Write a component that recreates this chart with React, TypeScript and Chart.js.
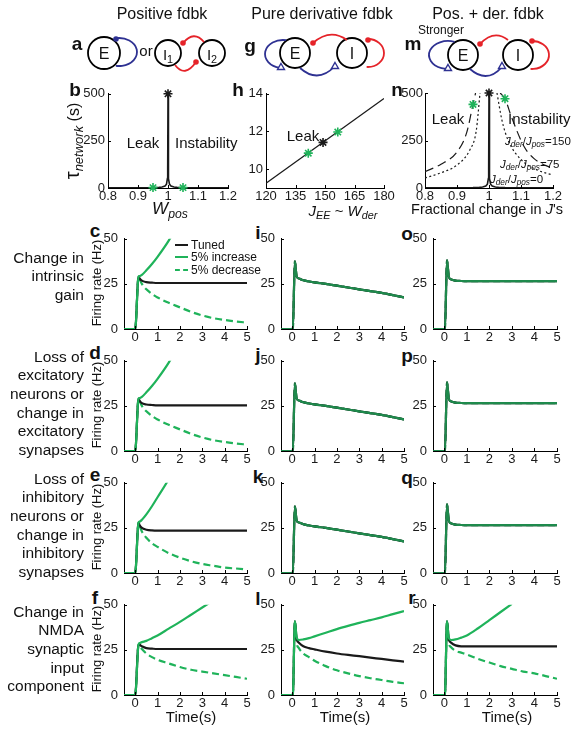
import React, { useEffect, useRef } from 'react';
import { Chart, registerables } from 'chart.js';
Chart.register(...registerables);

const FONT = "'Liberation Sans', Arial, Helvetica, sans-serif";
const BLACK = '#1a1a1a';
const GREEN = '#1fb35a';
const GREEN_MIX = '#1e8a4c';
const BLUE = '#2e3192';
const RED = '#e52329';

// ---------- Row b / h / n data ----------
const B_X_TICKS = [0.8, 0.9, 1, 1.1, 1.2];
const B_Y_TICKS = [0, 250, 500];
const W_POS = [0.8, 0.9, 0.95, 0.97, 0.98, 0.99, 0.995, 0.998, 0.999, 1, 1.001, 1.002, 1.005, 1.01, 1.02, 1.03, 1.05, 1.1, 1.2];
const TAU_POS = [0.5, 1, 2, 3.3, 5, 10, 20, 50, 100, 500, 100, 50, 20, 10, 5, 3.3, 2, 1, 0.5];
const B_STAR_BLACK_X = [1];
const B_STAR_BLACK_Y = [500];
const B_STAR_GREEN_X = [0.95, 1.05];
const B_STAR_GREEN_Y = [2, 2];

const H_X_TICKS = [120, 135, 150, 165, 180];
const H_Y_TICKS = [10, 12, 14];
const H_LINE_X = [120, 180];
const H_LINE_Y = [9.25, 13.75];
const H_STAR_BLACK_X = [149];
const H_STAR_BLACK_Y = [11.42];
const H_STAR_GREEN_X = [141.5, 156.5];
const H_STAR_GREEN_Y = [10.85, 11.97];

const N_DASH_L_X = [0.8, 0.85, 0.9, 0.93, 0.95, 0.958];
const N_DASH_L_Y = [86, 125, 190, 290, 440, 500];
const N_DASH_R_X = [1.035, 1.05, 1.07, 1.11, 1.14, 1.2];
const N_DASH_R_Y = [500, 470, 375, 217, 156, 100];
const N_DOT_L_X = [0.8, 0.85, 0.9, 0.94, 0.96, 0.972];
const N_DOT_L_Y = [53, 80, 121, 200, 300, 500];
const N_DOT_R_X = [1.025, 1.04, 1.06, 1.1, 1.15, 1.2];
const N_DOT_R_Y = [500, 360, 250, 150, 95, 68];
const N_STAR_BLACK_X = [1];
const N_STAR_BLACK_Y = [500];
const N_STAR_GREEN_X = [0.95, 1.05];
const N_STAR_GREEN_Y = [440, 470];

// ---------- time courses ----------
const TIME_TICKS = [0, 1, 2, 3, 4, 5];
const RATE_TICKS = [0, 25, 50];
const T_C = [-0.5, 0, 0.15, 0.2, 0.3, 0.5, 0.75, 1, 1.5, 2, 2.5, 3, 3.5, 4, 4.5, 5];
const T_S = [-0.5, 0.03, 0.12, 0.2, 0.3, 0.5, 0.75, 1, 1.5, 2, 2.5, 3, 3.5, 4, 4.5, 5];

const C_TUNED = [0, 0, 29, 28, 26.8, 26, 25.7, 25.5, 25.5, 25.5, 25.5, 25.5, 25.5, 25.5, 25.5, 25.5];
const C_INC = [0, 0, 29, 29.3, 30, 32.5, 36, 40, 49, 60, null, null, null, null, null, null];
const C_DEC = [0, 0, 29, 27.5, 25, 22, 19.5, 17.5, 14.5, 12, 9.5, 7.5, 6, 5, 4.2, 3.5];

const D_TUNED = [0, 0, 29, 27.8, 26.5, 25.8, 25.5, 25.3, 25.3, 25.3, 25.3, 25.3, 25.3, 25.3, 25.3, 25.3];
const D_INC = [0, 0, 29, 29.3, 30, 32.5, 36, 40, 49, 60, null, null, null, null, null, null];
const D_DEC = [0, 0, 29, 27.5, 25, 22, 19.5, 17.5, 14.5, 12, 9.5, 7.5, 6, 5, 4.2, 3.5];

const E_TUNED = [0, 0, 28, 26.5, 25, 24, 23.6, 23.5, 23.5, 23.5, 23.5, 23.5, 23.5, 23.5, 23.5, 23.5];
const E_INC = [0, 0, 28, 28.5, 29.5, 32.5, 37, 42, 52, 64, null, null, null, null, null, null];
const E_DEC = [0, 0, 28, 26, 23, 19.5, 16.5, 14.5, 11, 8.5, 6.5, 5, 4, 3, 2.5, 2];

const F_TUNED = [0, 0, 28, 27.8, 27, 26, 25.7, 25.5, 25.5, 25.5, 25.5, 25.5, 25.5, 25.5, 25.5, 25.5];
const F_INC = [0, 0, 28, 28.8, 29.3, 30, 31.5, 33, 36.8, 40.5, 44.5, 48.5, 52.5, null, null, null];
const F_DEC = [0, 0, 28, 27, 25.5, 23, 21, 19.5, 17.5, 15.5, 14, 13, 12, 11, 10, 9];

const I_ALL = [0, 0, 37.5, 29, 28, 27, 26.4, 25.8, 25, 24, 23, 22, 21, 20, 18.8, 17.5];
const J_ALL = [0, 0, 37.5, 29, 28, 27, 26.4, 25.8, 25, 24, 23, 22, 21, 20, 18.8, 17.5];
const K_ALL = [0, 0, 37, 29, 28, 27, 26.4, 25.8, 25, 24, 23, 22, 21, 20, 18.8, 17.5];

const L_TUNED = [0, 0, 41, 31, 29, 27, 26, 25.3, 24, 23, 22.2, 21.5, 20.7, 20, 19.2, 18.5];
const L_INC = [0, 0, 41, 32, 30.5, 30.8, 31.5, 32.5, 34.5, 36.5, 38.3, 40, 41.5, 43, 44.8, 46.5];
const L_DEC = [0, 0, 41, 29, 26, 23, 21, 19, 16, 13.7, 12, 10.5, 9.3, 8.3, 7.3, 6.5];

const O_ALL = [0, 0, 38, 29, 27.5, 26.8, 26.6, 26.5, 26.5, 26.5, 26.5, 26.5, 26.5, 26.5, 26.5, 26.5];
const P_ALL = [0, 0, 38, 29, 27.5, 26.8, 26.6, 26.5, 26.5, 26.5, 26.5, 26.5, 26.5, 26.5, 26.5, 26.5];
const Q_ALL = [0, 0, 38, 29, 27.5, 26.8, 26.6, 26.5, 26.5, 26.5, 26.5, 26.5, 26.5, 26.5, 26.5, 26.5];

const R_TUNED = [0, 0, 41, 31, 29, 27.5, 27, 27, 27, 27, 27, 27, 27, 27, 27, 27];
const R_INC = [0, 0, 41, 31.5, 30.5, 30.8, 31.8, 33, 37, 41.5, 46, 50.5, null, null, null, null];
const R_DEC = [0, 0, 41, 29, 26.5, 24.5, 23.5, 22.5, 20, 18, 16, 14.5, 13, 12, 10.5, 9];

// ---------- diagram geometry (page pixels) ----------
const CIRCLES_X = [104, 168, 212, 295, 352, 463, 518];
const CIRCLES_Y = [53, 53, 53, 53, 53, 55, 55];
const CIRCLES_R = [16, 13, 13, 15, 15, 15, 15];

type Rect = { x0: number; x1: number; y0: number; y1: number };
const PAD = { l: 40, r: 16, t: 10, b: 24 };

const zip = (xs: number[], ys: (number | null)[]) =>
  xs.map((x, i) => ({ x, y: ys[i] })).filter((p) => p.y !== null && p.y !== undefined) as { x: number; y: number }[];

const inwardTicks = {
  id: 'inwardTicks',
  afterDraw(chart: any) {
    const { ctx, chartArea: a } = chart;
    const xs = chart.scales.x;
    const ys = chart.scales.y;
    if (!xs || !ys || !xs.options.display) return;
    ctx.save();
    ctx.strokeStyle = '#000';
    ctx.lineWidth = 1;
    xs.ticks.forEach((t: any) => {
      const p = Math.round(xs.getPixelForValue(t.value)) + 0.5;
      ctx.beginPath();
      ctx.moveTo(p, a.bottom);
      ctx.lineTo(p, a.bottom - 3);
      ctx.stroke();
    });
    ys.ticks.forEach((t: any) => {
      const p = Math.round(ys.getPixelForValue(t.value)) + 0.5;
      ctx.beginPath();
      ctx.moveTo(a.left, p);
      ctx.lineTo(a.left + 3, p);
      ctx.stroke();
    });
    ctx.restore();
  },
};

function axis(ax: 'x' | 'y', min: number, max: number, ticks: number[], size: number, pad = 6) {
  return {
    type: 'linear',
    min,
    max,
    afterBuildTicks: (s: any) => {
      s.ticks = ticks.map((v) => ({ value: v }));
    },
    afterFit: (s: any) => {
      if (ax === 'x') s.height = size;
      else s.width = size;
    },
    grid: { display: false, drawTicks: false },
    border: { display: true, color: '#000', width: 1 },
    ticks: {
      color: BLACK,
      font: { family: FONT, size: 13 },
      padding: ax === 'x' ? 1 : pad,
      maxRotation: 0,
      autoSkip: false,
      callback: (v: any) => String(v),
    },
  };
}

function baseOptions(xs: any, ys: any) {
  return {
    responsive: false,
    animation: false,
    events: [],
    layout: { autoPadding: false, padding: { left: 0, top: PAD.t, right: PAD.r, bottom: 0 } },
    plugins: { legend: { display: false }, tooltip: { enabled: false } },
    scales: { x: xs, y: ys },
  };
}

const line = (data: any[], color: string, width: number, dash: number[] = [], smooth = true) => ({
  data,
  showLine: true,
  borderColor: color,
  backgroundColor: color,
  borderWidth: width,
  borderDash: dash,
  pointRadius: 0,
  fill: false,
  cubicInterpolationMode: smooth ? 'monotone' : 'default',
  tension: 0,
});

const stars = (xs: number[], ys: number[], color: string) => ({
  data: zip(xs, ys),
  showLine: false,
  pointStyle: 'star',
  pointRadius: 4.5,
  borderColor: color,
  backgroundColor: color,
  borderWidth: 1.6,
  clip: false,
});

// Note: Chart.js paints dataset 0 on top.
function timeConfig(t: number[], tuned: (number | null)[], inc: (number | null)[], dec: (number | null)[], overlap: boolean) {
  const g = overlap ? GREEN_MIX : GREEN;
  return {
    type: 'scatter',
    data: {
      datasets: [
        line(zip(t, inc), g, 2.2),
        line(zip(t, tuned), BLACK, 2.2),
        line(zip(t, dec), g, 2.2, [7, 4]),
      ],
    },
    options: baseOptions(axis('x', -0.5, 5, TIME_TICKS, PAD.b), axis('y', 0, 50, RATE_TICKS, PAD.l, 6)),
    plugins: [inwardTicks],
  };
}

function bConfig() {
  return {
    type: 'scatter',
    data: {
      datasets: [
        stars(B_STAR_BLACK_X, B_STAR_BLACK_Y, BLACK),
        stars(B_STAR_GREEN_X, B_STAR_GREEN_Y, GREEN),
        line(zip(W_POS, TAU_POS), BLACK, 1.6, [], false),
      ],
    },
    options: baseOptions(axis('x', 0.8, 1.2, B_X_TICKS, PAD.b), axis('y', 0, 500, B_Y_TICKS, PAD.l, 3)),
    plugins: [inwardTicks],
  };
}

function hConfig() {
  return {
    type: 'scatter',
    data: {
      datasets: [
        stars(H_STAR_BLACK_X, H_STAR_BLACK_Y, BLACK),
        stars(H_STAR_GREEN_X, H_STAR_GREEN_Y, GREEN),
        line(zip(H_LINE_X, H_LINE_Y), BLACK, 1.3, [], false),
      ],
    },
    options: baseOptions(axis('x', 120, 180, H_X_TICKS, PAD.b), axis('y', 9, 14, H_Y_TICKS, PAD.l, 3)),
    plugins: [inwardTicks],
  };
}

function nConfig() {
  return {
    type: 'scatter',
    data: {
      datasets: [
        stars(N_STAR_BLACK_X, N_STAR_BLACK_Y, BLACK),
        stars(N_STAR_GREEN_X, N_STAR_GREEN_Y, GREEN),
        line(zip(W_POS, TAU_POS), BLACK, 1.6, [], false),
        line(zip(N_DASH_L_X, N_DASH_L_Y), BLACK, 1.2, [9, 5]),
        line(zip(N_DASH_R_X, N_DASH_R_Y), BLACK, 1.2, [9, 5]),
        line(zip(N_DOT_L_X, N_DOT_L_Y), BLACK, 1.2, [2, 2.5]),
        line(zip(N_DOT_R_X, N_DOT_R_Y), BLACK, 1.2, [2, 2.5]),
      ],
    },
    options: baseOptions(axis('x', 0.8, 1.2, B_X_TICKS, PAD.b), axis('y', 0, 500, B_Y_TICKS, PAD.l, 2)),
    plugins: [inwardTicks],
  };
}

// diagram arcs
const ELLIPSES = [
  { cx: 119, cy: 52, rx: 18, ry: 14, a0: -100, a1: 100, ccw: false, color: BLUE },
  { cx: 283, cy: 54, rx: 18, ry: 14, a0: -80, a1: 100, ccw: true, color: BLUE },
  { cx: 368, cy: 53, rx: 16, ry: 14, a0: -90, a1: 95, ccw: false, color: RED },
  { cx: 448, cy: 55, rx: 19, ry: 14, a0: -70, a1: 92, ccw: true, color: BLUE },
  { cx: 532, cy: 55, rx: 17, ry: 14, a0: -95, a1: 95, ccw: false, color: RED },
];
const CURVES = [
  { p: [183, 43], c: [194, 30], q: [204, 42], color: RED },
  { p: [175, 65], c: [185, 78], q: [196, 62], color: RED },
  { p: [300, 68], c: [318, 84], q: [335, 66], color: BLUE },
  { p: [313, 43], c: [330, 28], q: [347, 40], color: RED },
  { p: [470, 69], c: [487, 84], q: [502, 67], color: BLUE },
  { p: [480, 44], c: [494, 29], q: [508, 40], color: RED },
];
const DOTS = [
  { x: 116, y: 39, color: BLUE },
  { x: 183, y: 43, color: RED },
  { x: 196, y: 62, color: RED },
  { x: 313, y: 43, color: RED },
  { x: 368, y: 40, color: RED },
  { x: 480, y: 44, color: RED },
  { x: 532, y: 41, color: RED },
];
const TRIS = [
  { x: 281, y: 67 },
  { x: 335, y: 66 },
  { x: 448, y: 68 },
  { x: 502, y: 66 },
];

const diagramPlugin = {
  id: 'diagram',
  afterDatasetsDraw(chart: any) {
    const ctx = chart.ctx;
    const sx = chart.scales.x;
    const sy = chart.scales.y;
    const X = (v: number) => sx.getPixelForValue(v);
    const Y = (v: number) => sy.getPixelForValue(v);
    ctx.save();
    ctx.lineWidth = 1.8;
    for (const e of ELLIPSES) {
      ctx.strokeStyle = e.color;
      ctx.beginPath();
      ctx.ellipse(X(e.cx), Y(e.cy), e.rx, e.ry, 0, (e.a0 * Math.PI) / 180, (e.a1 * Math.PI) / 180, e.ccw);
      ctx.stroke();
    }
    for (const c of CURVES) {
      ctx.strokeStyle = c.color;
      ctx.beginPath();
      ctx.moveTo(X(c.p[0]), Y(c.p[1]));
      ctx.quadraticCurveTo(X(c.c[0]), Y(c.c[1]), X(c.q[0]), Y(c.q[1]));
      ctx.stroke();
    }
    for (const d of DOTS) {
      ctx.fillStyle = d.color;
      ctx.beginPath();
      ctx.arc(X(d.x), Y(d.y), 2.8, 0, Math.PI * 2);
      ctx.fill();
    }
    ctx.strokeStyle = BLUE;
    ctx.fillStyle = '#fff';
    ctx.lineWidth = 1.4;
    for (const t of TRIS) {
      const x = X(t.x);
      const y = Y(t.y);
      ctx.beginPath();
      ctx.moveTo(x, y - 3.5);
      ctx.lineTo(x + 3.5, y + 2.5);
      ctx.lineTo(x - 3.5, y + 2.5);
      ctx.closePath();
      ctx.fill();
      ctx.stroke();
    }
    ctx.restore();
  },
};

function diagramConfig() {
  return {
    type: 'scatter',
    data: {
      datasets: [
        {
          data: zip(CIRCLES_X, CIRCLES_Y),
          pointRadius: CIRCLES_R,
          pointStyle: 'circle',
          borderColor: '#000',
          backgroundColor: 'rgba(0,0,0,0)',
          borderWidth: 1.8,
          clip: false,
        },
      ],
    },
    options: {
      responsive: false,
      animation: false,
      events: [],
      layout: { autoPadding: false, padding: 0 },
      plugins: { legend: { display: false }, tooltip: { enabled: false } },
      scales: {
        x: { type: 'linear', min: 0, max: 575, display: false },
        y: { type: 'linear', min: 0, max: 80, reverse: true, display: false },
      },
    },
    plugins: [diagramPlugin],
  };
}

function ChartBox({ left, top, width, height, build }: { left: number; top: number; width: number; height: number; build: () => any }) {
  const ref = useRef<HTMLCanvasElement>(null);
  useEffect(() => {
    const c = new Chart(ref.current as HTMLCanvasElement, build());
    return () => c.destroy();
  }, []);
  return (
    <canvas
      ref={ref}
      width={width}
      height={height}
      style={{ position: 'absolute', left, top, width, height }}
    />
  );
}

function Panel({ rect, build }: { rect: Rect; build: () => any }) {
  const w = rect.x1 - rect.x0 + PAD.l + PAD.r;
  const h = rect.y1 - rect.y0 + PAD.t + PAD.b;
  return <ChartBox left={rect.x0 - PAD.l} top={rect.y0 - PAD.t} width={w} height={h} build={build} />;
}

type TxtProps = {
  x: number;
  y: number;
  size?: number;
  anchor?: 'start' | 'middle' | 'end';
  rotate?: boolean;
  bold?: boolean;
  italic?: boolean;
  children: React.ReactNode;
};
function Txt({ x, y, size = 15, anchor = 'middle', rotate = false, bold = false, italic = false, children }: TxtProps) {
  const tx = anchor === 'start' ? '0' : anchor === 'end' ? '-100%' : '-50%';
  return (
    <div
      style={{
        position: 'absolute',
        left: x,
        top: y,
        transform: `translate(${tx}, -50%)${rotate ? ' rotate(-90deg)' : ''}`,
        transformOrigin: rotate ? '50% 50%' : undefined,
        fontFamily: FONT,
        fontSize: size,
        fontWeight: bold ? 'bold' : 'normal',
        fontStyle: italic ? 'italic' : 'normal',
        whiteSpace: 'nowrap',
        lineHeight: 1,
        color: '#111',
      }}
    >
      {children}
    </div>
  );
}

const Sub = ({ children }: { children: React.ReactNode }) => (
  <span style={{ fontSize: '0.72em', position: 'relative', top: '0.3em' }}>{children}</span>
);

function Block({ right, top, lines }: { right: number; top: number; lines: string[] }) {
  return (
    <div
      style={{
        position: 'absolute',
        right: 575 - right,
        top,
        textAlign: 'right',
        fontFamily: FONT,
        fontSize: 15.5,
        lineHeight: '18.7px',
        whiteSpace: 'nowrap',
        color: '#111',
      }}
    >
      {lines.map((l, i) => (
        <div key={i}>{l}</div>
      ))}
    </div>
  );
}

const COLS: [number, number][] = [
  [124, 247],
  [281, 404],
  [433, 557],
];
const ROW_Y0 = [235, 357, 479, 601];
const ROW_H = 94;
const rect = (c: number, r: number): Rect => ({ x0: COLS[c][0], x1: COLS[c][1], y0: ROW_Y0[r], y1: ROW_Y0[r] + ROW_H });

const TIME_PANELS = [
  [0, 0, T_C, C_TUNED, C_INC, C_DEC, false],
  [0, 1, T_C, D_TUNED, D_INC, D_DEC, false],
  [0, 2, T_C, E_TUNED, E_INC, E_DEC, false],
  [0, 3, T_C, F_TUNED, F_INC, F_DEC, false],
  [1, 0, T_S, I_ALL, I_ALL, I_ALL, true],
  [1, 1, T_S, J_ALL, J_ALL, J_ALL, true],
  [1, 2, T_S, K_ALL, K_ALL, K_ALL, true],
  [1, 3, T_S, L_TUNED, L_INC, L_DEC, false],
  [2, 0, T_S, O_ALL, O_ALL, O_ALL, true],
  [2, 1, T_S, P_ALL, P_ALL, P_ALL, true],
  [2, 2, T_S, Q_ALL, Q_ALL, Q_ALL, true],
  [2, 3, T_S, R_TUNED, R_INC, R_DEC, false],
] as const;

const LETTERS: [string, number, number][] = [
  ['a', 77, 43], ['g', 250, 45], ['m', 413, 43],
  ['b', 75, 89], ['h', 238, 89], ['n', 397, 89],
  ['c', 95, 230], ['i', 258, 232], ['o', 407, 233],
  ['d', 95, 352], ['j', 258, 354], ['p', 407, 355],
  ['e', 95, 474], ['k', 258, 476], ['q', 407, 477],
  ['f', 95, 597], ['l', 258, 598], ['r', 412, 597],
];

export default function App() {
  return (
    <div style={{ position: 'absolute', left: 0, top: 0, width: 575, height: 731, background: '#fff', overflow: 'hidden' }}>
      <ChartBox left={0} top={0} width={575} height={80} build={diagramConfig} />

      <Txt x={162} y={14} size={16}>Positive fdbk</Txt>
      <Txt x={322} y={14} size={16}>Pure derivative fdbk</Txt>
      <Txt x={488} y={14} size={16}>Pos. + der. fdbk</Txt>

      <Txt x={104} y={54} size={16}>E</Txt>
      <Txt x={146} y={50} size={15}>or</Txt>
      <Txt x={168} y={54} size={15}>I<Sub>1</Sub></Txt>
      <Txt x={212} y={54} size={15}>I<Sub>2</Sub></Txt>
      <Txt x={295} y={54} size={16}>E</Txt>
      <Txt x={352} y={54} size={16}>I</Txt>
      <Txt x={463} y={56} size={16}>E</Txt>
      <Txt x={518} y={56} size={16}>I</Txt>
      <Txt x={441} y={30} size={12}>Stronger</Txt>

      {LETTERS.map(([s, x, y]) => (
        <Txt key={s} x={x} y={y} size={19} bold>
          {s}
        </Txt>
      ))}

      <Panel rect={{ x0: 108, x1: 228, y0: 93, y1: 188 }} build={bConfig} />
      <Panel rect={{ x0: 266, x1: 384, y0: 93, y1: 188 }} build={hConfig} />
      <Panel rect={{ x0: 425, x1: 553, y0: 93, y1: 188 }} build={nConfig} />

      <Txt x={72} y={141} size={16} rotate>
        <span style={{ fontSize: 20 }}>τ</span>
        <span style={{ fontStyle: 'italic', fontSize: 13, position: 'relative', top: 4 }}>network</span> (s)
      </Txt>
      <Txt x={143} y={142} size={15}>Leak</Txt>
      <Txt x={175} y={142} size={15} anchor="start">Instability</Txt>
      <Txt x={303} y={135} size={15}>Leak</Txt>
      <Txt x={448} y={118} size={15}>Leak</Txt>
      <Txt x={508} y={118} size={15} anchor="start">Instability</Txt>
      <Txt x={505} y={142} size={11.5} anchor="start">
        <i>J</i><i><Sub>der</Sub></i>/<i>J</i><i><Sub>pos</Sub></i>=150
      </Txt>
      <Txt x={500} y={165} size={11.5} anchor="start">
        <i>J</i><i><Sub>der</Sub></i>/<i>J</i><i><Sub>pos</Sub></i>=75
      </Txt>
      <Txt x={490} y={180} size={11.5} anchor="start">
        <i>J</i><i><Sub>der</Sub></i>/<i>J</i><i><Sub>pos</Sub></i>=0
      </Txt>

      <Txt x={170} y={208} size={17} italic>
        W<Sub>pos</Sub>
      </Txt>
      <Txt x={343} y={210} size={15}>
        <i>J</i><i><Sub>EE</Sub></i> ~ <i>W</i><i><Sub>der</Sub></i>
      </Txt>
      <Txt x={487} y={209} size={14.5}>
        Fractional change in <i>J</i>'s
      </Txt>

      {TIME_PANELS.map(([c, r, t, a, b, d, ov], i) => (
        <Panel
          key={i}
          rect={rect(c, r)}
          build={() => timeConfig(t as number[], a as any, b as any, d as any, ov as boolean)}
        />
      ))}

      {ROW_Y0.map((y0, i) => (
        <Txt key={i} x={96} y={y0 + 48} size={13} rotate>
          Firing rate (Hz)
        </Txt>
      ))}

      <Block right={84} top={248.6} lines={['Change in', 'intrinsic', 'gain']} />
      <Block right={84} top={347.6} lines={['Loss of', 'excitatory', 'neurons or', 'change in', 'excitatory', 'synapses']} />
      <Block right={84} top={469.6} lines={['Loss of', 'inhibitory', 'neurons or', 'change in', 'inhibitory', 'synapses']} />
      <Block right={84} top={602.6} lines={['Change in', 'NMDA', 'synaptic', 'input', 'component']} />

      {/* legend in panel c */}
      <div style={{ position: 'absolute', left: 175, top: 244, width: 13, borderTop: `2.5px solid ${BLACK}` }} />
      <div style={{ position: 'absolute', left: 175, top: 256, width: 13, borderTop: `2.5px solid ${GREEN}` }} />
      <div style={{ position: 'absolute', left: 175, top: 268.5, width: 13, borderTop: `2.5px dashed ${GREEN}` }} />
      <Txt x={191} y={245} size={12} anchor="start">Tuned</Txt>
      <Txt x={191} y={257} size={12} anchor="start">5% increase</Txt>
      <Txt x={191} y={269.5} size={12} anchor="start">5% decrease</Txt>

      <Txt x={191} y={716} size={15}>Time(s)</Txt>
      <Txt x={345} y={716} size={15}>Time(s)</Txt>
      <Txt x={507} y={716} size={15}>Time(s)</Txt>
    </div>
  );
}
